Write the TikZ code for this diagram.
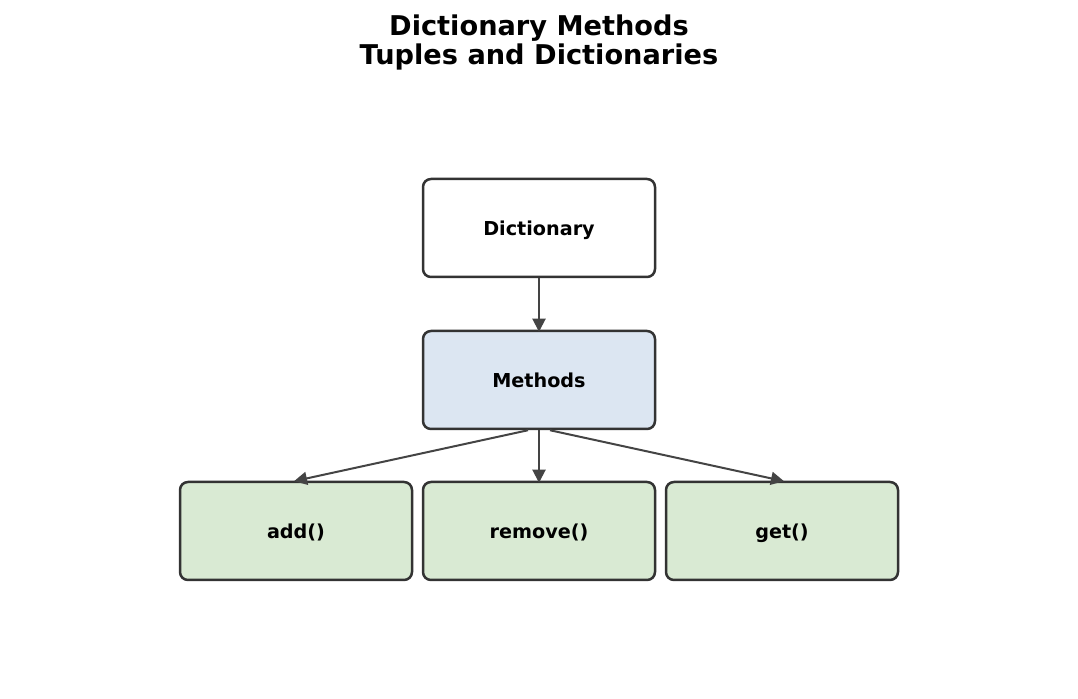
\documentclass[tikz,border=0pt]{standalone}
\usepackage{fontspec}
\setmainfont{DejaVu Sans}
\usepackage{tikz}
\usetikzlibrary{arrows.meta,positioning,calc}
\definecolor{edgegray}{HTML}{333333}
\definecolor{arrowgray}{HTML}{444444}
\definecolor{methblue}{HTML}{DCE6F2}
\definecolor{leafgreen}{HTML}{D9EAD3}
\tikzset{
  boxnode/.style={draw=edgegray,line width=1.25pt,rounded corners=4pt,
    minimum width=116pt,minimum height=49pt,text depth=0pt,
    font=\fontsize{9.6}{11}\selectfont\bfseries},
  link/.style={draw=arrowgray,line width=1pt,shorten >=-1pt,
    -{Stealth[length=6.5pt,width=6.5pt,inset=0pt]}}
}

\begin{document}
\begin{tikzpicture}[x=0.5pt,y=-0.5pt]
\useasboundingbox (0,0) rectangle (1078,699);
% title
\node[anchor=base,font=\fontsize{13.6}{15}\selectfont\bfseries] (title1) at (539,36) {Dictionary Methods};
\node[anchor=base,font=\fontsize{13.6}{15}\selectfont\bfseries] (title2) at (539,65) {Tuples and Dictionaries};
% tree
\node[boxnode,fill=white] (dict) at (539,228) {Dictionary};
\node[boxnode,fill=methblue] (meth) at (539,380) {Methods};
\node[boxnode,fill=leafgreen] (madd) at (296,531) {add()};
\node[boxnode,fill=leafgreen] (mrem) at (539,531) {remove()};
\node[boxnode,fill=leafgreen] (mget) at (782,531) {get()};
\coordinate (outl) at ($(meth.south)+(-11,0)$);
\coordinate (outr) at ($(meth.south)+(11,0)$);
\draw[link] (dict) -- (meth);
\draw[link] (outl) -- (madd.north);
\draw[link] (meth) -- (mrem);
\draw[link] (outr) -- (mget.north);
\end{tikzpicture}
\end{document}
